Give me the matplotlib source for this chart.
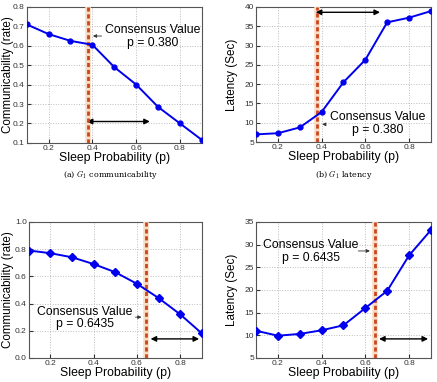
import matplotlib.pyplot as plt
import numpy as np

plt.rcParams['font.family'] = ['Liberation Sans', 'DejaVu Sans']
plt.rcParams['mathtext.fontset'] = 'cm'

p = [0.1, 0.2, 0.3, 0.4, 0.5, 0.6, 0.7, 0.8, 0.9]

# G1 (top row)
comm_g1 = [0.71, 0.66, 0.625, 0.605, 0.49, 0.40, 0.285, 0.20, 0.115]
lat_g1 = [7.0, 7.3, 8.8, 12.8, 20.5, 26.3, 36.0, 37.2, 38.9]
cons_g1 = 0.380

# second graph (bottom row)
comm_g2 = [0.79, 0.77, 0.74, 0.69, 0.63, 0.545, 0.44, 0.32, 0.18]
lat_g2 = [11.0, 9.9, 10.3, 11.1, 12.2, 16.0, 19.8, 27.6, 33.2]
cons_g2 = 0.6435

fig = plt.figure(figsize=(4.37, 3.82), dpi=100)

def panel(rect, y, marker, ms, ylim, yticks, ylabel, ylab_x, cons, cons_txt,
          txt_xy, arrow_y, arrow_from, dbl, dbl_y):
    ax = fig.add_axes(rect)
    ax.plot(p, y, color='#0000ee', lw=1.4, marker=marker, ms=ms, zorder=5)
    ax.set_xlim(0.1, 0.9)
    ax.set_ylim(*ylim)
    ax.set_xticks([0.2, 0.4, 0.6, 0.8])
    ax.set_yticks(yticks)
    ax.tick_params(direction='in', labelsize=6, length=3, pad=1.5,
                   colors='#333333')
    ax.grid(True, ls=':', color='#bbbbbb', lw=0.7)
    for s in ax.spines.values():
        s.set_color('#555555')
    ax.axvline(cons, color='#f8dcc4', lw=4, zorder=3)
    ax.axvline(cons, color='#c9461f', lw=2, ls=(0, (1.5, 1)), zorder=4)
    ax.set_xlabel('Sleep Probability (p)', fontsize=8.8, labelpad=0)
    ax.set_ylabel(ylabel, fontsize=8.4)
    ax.yaxis.set_label_coords(ylab_x, 0.5)
    ax.text(txt_xy[0], txt_xy[1], cons_txt, fontsize=8.8, ha='center',
            va='center', linespacing=1.1)
    ax.annotate('', xy=(cons + np.sign(arrow_from - cons) * 0.01, arrow_y),
                xytext=(arrow_from, arrow_y),
                arrowprops=dict(arrowstyle='-|>', color='#333333', lw=0.6,
                                mutation_scale=5))
    ax.annotate('', xy=(dbl[0], dbl_y), xytext=(dbl[1], dbl_y),
                arrowprops=dict(arrowstyle='<|-|>', color='black', lw=1.0,
                                mutation_scale=8))
    return ax

panel([0.061, 0.626, 0.401, 0.356], comm_g1, 'o', 3.5, (0.1, 0.8),
      np.arange(0.1, 0.81, 0.1), 'Communicability (rate)', -0.075, cons_g1,
      'Consensus Value\np = 0.380', (0.677, 0.648), 0.65, 0.455,
      (0.362, 0.675), 0.21)
panel([0.586, 0.628, 0.400, 0.354], lat_g1, 'o', 3.5, (5, 40),
      np.arange(5, 41, 5), 'Latency (Sec)', -0.105, cons_g1,
      'Consensus Value\np = 0.380', (0.657, 9.7), 9.6, 0.43,
      (0.36, 0.68), 38.6)
panel([0.066, 0.063, 0.396, 0.356], comm_g2, 'D', 4, (0, 1),
      [0, 0.2, 0.4, 0.6, 0.8, 1], 'Communicability (rate)', -0.088, cons_g2,
      'Consensus Value\np = 0.6435', (0.36, 0.294), 0.30, 0.58,
      (0.65, 0.9), 0.14)
panel([0.586, 0.063, 0.400, 0.356], lat_g2, 'D', 4, (5, 35),
      np.arange(5, 36, 5), 'Latency (Sec)', -0.105, cons_g2,
      'Consensus Value\np = 0.6435', (0.352, 28.5), 28.6, 0.555,
      (0.65, 0.9), 9.2)

fig.text(0.252, 0.542, '(a) $G_1$ communicability', fontsize=5.8,
         family='DejaVu Serif', ha='center', va='center')
fig.text(0.786, 0.542, '(b) $G_1$ latency', fontsize=5.8,
         family='DejaVu Serif', ha='center', va='center')

fig.savefig('out.png', dpi=100)
